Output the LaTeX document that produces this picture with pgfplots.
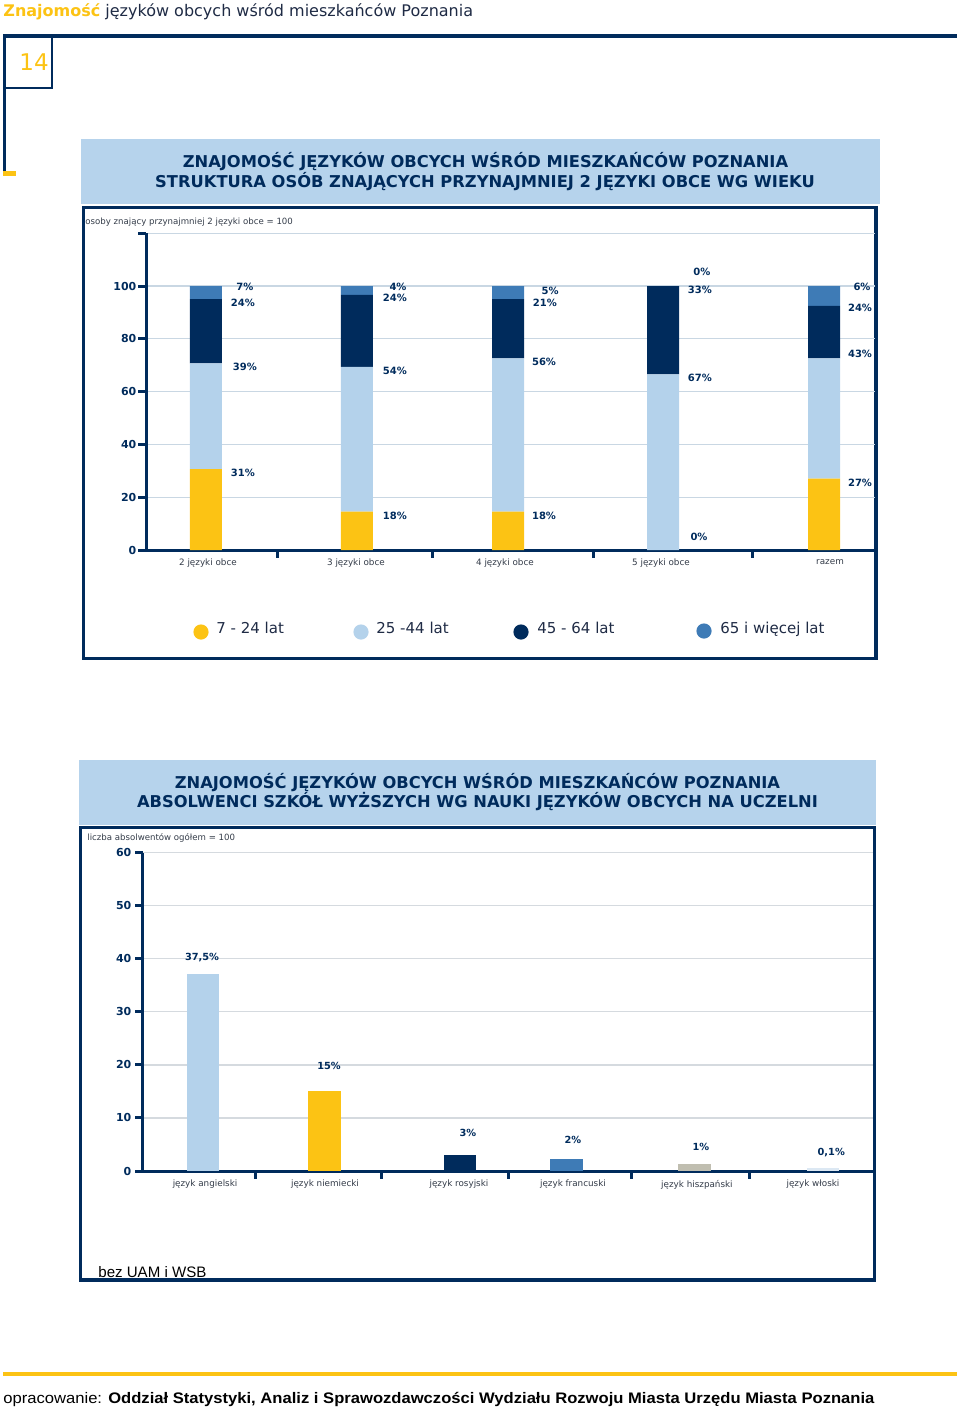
\documentclass[border=0pt]{standalone}
\usepackage{pgfplots}
\pgfplotsset{compat=1.18}
\usepackage{fontspec}
\setmainfont{DejaVu Sans}
\newfontfamily\arialf{Liberation Sans}
\definecolor{navy}{HTML}{002B5C}
\definecolor{yel}{HTML}{FCC314}
\definecolor{lblue}{HTML}{B4D2EB}
\definecolor{steel}{HTML}{3E7BB6}
\definecolor{band}{HTML}{B6D3EC}
\definecolor{gridc}{HTML}{C9D7E3}
\definecolor{gridd}{HTML}{D5DADF}
\definecolor{beige}{HTML}{C0BEB0}
\definecolor{vlblue}{HTML}{DCE8F3}
\definecolor{txt}{HTML}{1F2B45}
\definecolor{gtxt}{HTML}{333B48}
\tikzset{vl/.style={font=\fontsize{5}{6}\selectfont\bfseries, text=navy, inner sep=0pt},
         vm/.style={font=\fontsize{4.9}{6}\selectfont\bfseries, text=navy, inner sep=0pt}}
\begin{document}
\begin{tikzpicture}[x=0.5pt,y=-0.5pt]
\path[use as bounding box] (0,0) rectangle (960,1409);
% header
\node[anchor=base west, inner sep=0pt, text=txt] at (3,16) {\fontsize{8.0}{10}\selectfont\textcolor{yel}{\bfseries Znajomość} języków obcych wśród mieszkańców Poznania};
\draw[navy, line width=2pt] (3,36) -- (957,36);
\draw[navy, line width=1pt] (5,37) -- (5,88) -- (52,88) -- (52,37);
\draw[navy, line width=1.2pt] (4.5,36) -- (4.5,172);
\fill[yel] (3,171) rectangle (16,176);
\node[anchor=base west, inner sep=0pt, text=yel] at (19,70.5) {\fontsize{11.5}{13}\selectfont 14};
% chart 1 band and frame
\fill[band] (81,138.5) rectangle (880,204);
\node[anchor=base, inner sep=0pt, text=navy] at (485.5,167) {\fontsize{8.15}{10}\selectfont\bfseries ZNAJOMOŚĆ JĘZYKÓW OBCYCH WŚRÓD MIESZKAŃCÓW POZNANIA};
\node[anchor=base, inner sep=0pt, text=navy] at (485,187) {\fontsize{8.15}{10}\selectfont\bfseries STRUKTURA OSÓB ZNAJĄCYCH PRZYNAJMNIEJ 2 JĘZYKI OBCE WG WIEKU};
\draw[navy, line width=1.7pt] (83.7,207.5) rectangle (876,658.5);
\node[anchor=base west, inner sep=0pt, text=gtxt] at (85,224.5) {\fontsize{4.3}{5}\selectfont osoby znający przynajmniej 2 języki obce = 100};
% legend 1
\fill[yel] (201,632) circle[radius=3.8pt];
\fill[lblue] (361,632) circle[radius=3.8pt];
\fill[navy] (521,632) circle[radius=3.8pt];
\fill[steel] (704,631) circle[radius=3.8pt];
\node[anchor=base west, inner sep=0pt, text=txt] at (216,633) {\fontsize{7.5}{9}\selectfont 7 - 24 lat};
\node[anchor=base west, inner sep=0pt, text=txt] at (376,633) {\fontsize{7.5}{9}\selectfont 25 -44 lat};
\node[anchor=base west, inner sep=0pt, text=txt] at (537,633) {\fontsize{7.5}{9}\selectfont 45 - 64 lat};
\node[anchor=base west, inner sep=0pt, text=txt] at (720,633) {\fontsize{7.5}{9}\selectfont 65 i więcej lat};

\begin{axis}[
  at={(73pt,-275pt)}, anchor=south west,
  scale only axis, width=364.5pt, height=158.4pt,
  xmin=-0.388, xmax=4.330, ymin=0, ymax=120,
  ybar stacked, bar width=16pt,
  axis x line*=bottom, axis y line*=left,
  axis line style={navy, line width=1.5pt},
  ytick={0,20,...,120}, yticklabels={0,20,40,60,80,100,{}},
  yticklabel style={font=\fontsize{5.5}{6}\selectfont\bfseries, text=navy, xshift=2.5pt},
  ymajorgrids, grid style={gridc, line width=0.6pt},
  tick align=outside, major tick length=3.8pt,
  tick style={navy, line width=1.5pt},
  xtick={0.466,1.463,2.505,3.534}, xticklabels={},
  extra x ticks={0.013,0.971,1.935,2.945,4.039},
  extra x tick labels={2 języki obce,3 języki obce,4 języki obce,5 języki obce,razem},
  extra x tick style={major tick length=0pt, xticklabel style={font=\fontsize{4.4}{5}\selectfont, text=gtxt, yshift=-1pt}},
  clip=false,
]
\addplot[fill=yel, draw=none] coordinates {(0,30.6) (0.977,14.5) (1.955,14.5) (2.958,0) (4,27.0)};
\addplot[fill=lblue, draw=none] coordinates {(0,40.1) (0.977,54.9) (1.955,58.1) (2.958,66.5) (4,45.6)};
\addplot[fill=navy, draw=none] coordinates {(0,24.3) (0.977,27.2) (1.955,22.4) (2.958,33.5) (4,19.9)};
\addplot[fill=steel, draw=none] coordinates {(0,5.0) (0.977,3.4) (1.955,5.0) (2.958,0) (4,7.5)};
\draw[white, line width=0.6pt] (axis cs:3.9,92.5) -- (axis cs:4.1,92.5);
\node[vl] at (axis cs:0.252,99.6) {7\%};
\node[vl] at (axis cs:0.239,93.6) {24\%};
\node[vl] at (axis cs:0.252,69.3) {39\%};
\node[vl] at (axis cs:0.239,29.2) {31\%};
\node[vl] at (axis cs:1.243,99.6) {4\%};
\node[vl] at (axis cs:1.223,95.5) {24\%};
\node[vl] at (axis cs:1.223,67.8) {54\%};
\node[vl] at (axis cs:1.223,12.9) {18\%};
\node[vl] at (axis cs:2.227,98.1) {5\%};
\node[vl] at (axis cs:2.194,93.6) {21\%};
\node[vl] at (axis cs:2.188,71.2) {56\%};
\node[vl] at (axis cs:2.188,12.9) {18\%};
\node[vl] at (axis cs:3.210,105.3) {0\%};
\node[vl] at (axis cs:3.197,98.5) {33\%};
\node[vl] at (axis cs:3.197,65.2) {67\%};
\node[vl] at (axis cs:3.191,4.9) {0\%};
\node[vl] at (axis cs:4.246,99.6) {6\%};
\node[vl] at (axis cs:4.233,91.7) {24\%};
\node[vl] at (axis cs:4.233,74.2) {43\%};
\node[vl] at (axis cs:4.233,25.4) {27\%};
\end{axis}

% chart 2 band and frame
\fill[band] (78.5,760) rectangle (876,825);
\node[anchor=base, inner sep=0pt, text=navy] at (477.5,788) {\fontsize{8.15}{10}\selectfont\bfseries ZNAJOMOŚĆ JĘZYKÓW OBCYCH WŚRÓD MIESZKAŃCÓW POZNANIA};
\node[anchor=base, inner sep=0pt, text=navy] at (477.5,807) {\fontsize{8.15}{10}\selectfont\bfseries ABSOLWENCI SZKÓŁ WYŻSZYCH WG NAUKI JĘZYKÓW OBCYCH NA UCZELNI};
\draw[navy, line width=1.7pt] (80.5,827.5) rectangle (874.7,1280);
\node[anchor=base west, inner sep=0pt, text=gtxt] at (87,840) {\fontsize{4.3}{5}\selectfont liczba absolwentów ogółem = 100};

\begin{axis}[
  at={(71.5pt,-585.5pt)}, anchor=south west,
  scale only axis, width=365pt, height=159.15pt,
  xmin=0, xmax=6, ymin=0, ymax=60,
  ybar, bar width=16.25pt,
  axis x line*=bottom, axis y line*=left,
  axis line style={navy, line width=1.5pt},
  ytick={0,10,...,60}, yticklabels={0,10,20,30,40,50,60},
  yticklabel style={font=\fontsize{5.5}{6}\selectfont\bfseries, text=navy, xshift=1.5pt},
  ymajorgrids, grid style={gridd, line width=0.6pt},
  tick align=outside, major tick length=3.8pt,
  tick style={navy, line width=1.5pt},
  xtick={0.921,1.964,3.008,4.019,4.989}, xticklabels={},
  extra x ticks={0.510,1.496,2.597,3.534,4.553,5.507},
  extra x tick labels={język angielski,język niemiecki,język rosyjski,język francuski,język hiszpański,język włoski},
  extra x tick style={major tick length=0pt, xticklabel style={font=\fontsize{4.4}{5}\selectfont, text=gtxt, yshift=-1pt}},
  clip=false,
]
\addplot[fill=lblue, draw=none, bar shift=0pt] coordinates {(0.493,37.1)};
\addplot[fill=yel, draw=none, bar shift=0pt] coordinates {(1.490,15.1)};
\addplot[fill=navy, draw=none, bar shift=0pt] coordinates {(2.607,3.1)};
\addplot[fill=steel, draw=none, bar shift=0pt] coordinates {(3.482,2.3)};
\addplot[fill=beige, draw=none, bar shift=0pt] coordinates {(4.533,1.4)};
\addplot[fill=vlblue, draw=none, bar shift=0pt] coordinates {(5.591,0.5)};
\node[vm] at (axis cs:0.485,40.3) {37,5\%};
\node[vm] at (axis cs:1.529,19.8) {15\%};
\node[vm] at (axis cs:2.671,7.2) {3\%};
\node[vm] at (axis cs:3.534,5.8) {2\%};
\node[vm] at (axis cs:4.586,4.5) {1\%};
\node[vm] at (axis cs:5.657,3.4) {0,1\%};
\end{axis}

\node[anchor=base west, inner sep=0pt, text=black] at (98,1277) {\resizebox{54pt}{5.5pt}{\arialf bez UAM i WSB}};
\fill[yel] (3,1372) rectangle (957,1376);
\node[anchor=base west, inner sep=0pt, text=black] at (3,1403) {\resizebox{435.5pt}{5.6pt}{\arialf opracowanie: \bfseries Oddział Statystyki, Analiz i Sprawozdawczości Wydziału Rozwoju Miasta Urzędu Miasta Poznania}};
\end{tikzpicture}
\end{document}
